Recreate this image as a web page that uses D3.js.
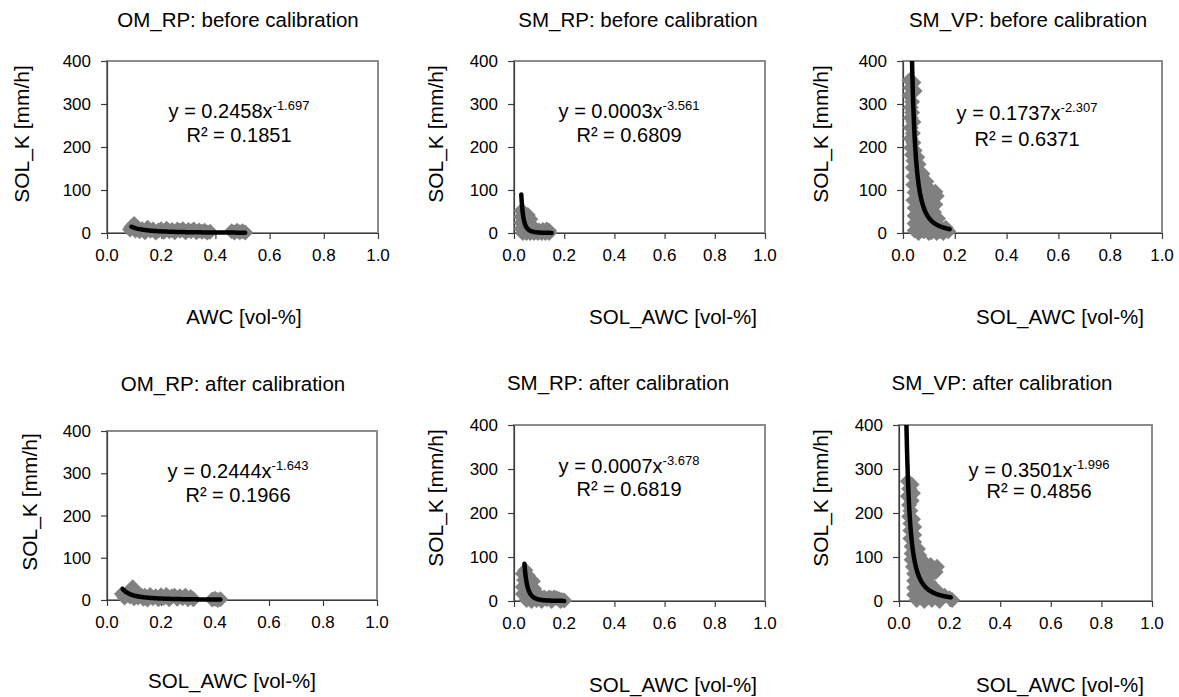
<!DOCTYPE html>
<html>
<head>
<meta charset="utf-8">
<script src="https://cdn.jsdelivr.net/npm/d3@7"></script>
<style>
  body { margin: 0; background: #fff; }
  text { font-family: "Liberation Sans", Arial, sans-serif; fill: #000; }
</style>
</head>
<body>
<div id="chart"></div>
<script>
const WIDTH = 1179;
const HEIGHT = 697;

// Text.
const titles = ["OM_RP: before calibration", "SM_RP: before calibration", "SM_VP: before calibration",
                "OM_RP: after calibration", "SM_RP: after calibration", "SM_VP: after calibration"];
const xLabels = ["AWC [vol-%]", "SOL_AWC [vol-%]", "SOL_AWC [vol-%]",
                 "SOL_AWC [vol-%]", "SOL_AWC [vol-%]", "SOL_AWC [vol-%]"];
const yLabels = ["SOL_K  [mm/h]", "SOL_K  [mm/h]", "SOL_K  [mm/h]",
                 "SOL_K [mm/h]", "SOL_K  [mm/h]", "SOL_K  [mm/h]"];
const xTicks = [0, 0.2, 0.4, 0.6, 0.8, 1.0];
const yTicks = [0, 100, 200, 300, 400];

// Power trendlines y = a * x^b.
const fitA = [0.2458, 0.0003, 0.1737, 0.2444, 0.0007, 0.3501];
const fitB = [-1.697, -3.561, -2.307, -1.643, -3.678, -1.996];
const fitAText = ["0.2458", "0.0003", "0.1737", "0.2444", "0.0007", "0.3501"];
const fitR2 = ["0.1851", "0.6809", "0.6371", "0.1966", "0.6819", "0.4856"];
const fitFrom = [0.09, 0.029, 0.03, 0.058, 0.0415, 0.028];
const fitTo = [0.51, 0.15, 0.18, 0.42, 0.20, 0.205];

// Scatter points [AWC, K].
const omBefore = [[0.085,8],[0.09,14],[0.10,21],[0.105,6],[0.11,14],[0.12,4],[0.13,9],[0.14,2],[0.15,12],
  [0.16,5],[0.17,8],[0.18,1],[0.19,6],[0.20,9],[0.21,3],[0.22,10],[0.23,4],[0.24,7],[0.25,2],[0.26,8],
  [0.27,5],[0.28,9],[0.29,2],[0.30,7],[0.31,4],[0.32,8],[0.33,2],[0.34,6],[0.35,3],[0.36,5],[0.37,1],
  [0.38,3],[0.46,4],[0.47,1],[0.48,5],[0.49,2],[0.50,4],[0.51,1]];
const smRpBefore = [[0.03,52],[0.035,50],[0.03,38],[0.04,40],[0.055,42],[0.065,32],[0.03,24],[0.04,26],
  [0.055,22],[0.07,18],[0.03,10],[0.04,12],[0.055,8],[0.07,6],[0.085,8],[0.1,6],[0.115,7],[0.13,8],
  [0.14,5],[0.035,0],[0.05,0],[0.065,0],[0.08,0],[0.095,0],[0.11,0],[0.125,0],[0.14,0]];
const smVpBefore = [[0.025,355],[0.04,350],[0.03,338],[0.045,330],[0.025,320],[0.035,305],[0.03,292],
  [0.035,280],[0.03,268],[0.04,258],[0.03,245],[0.038,232],[0.03,220],[0.04,210],[0.032,198],[0.045,192],
  [0.035,182],[0.055,176],[0.04,168],[0.06,160],[0.038,152],[0.06,144],[0.075,138],[0.04,132],[0.065,126],
  [0.09,120],[0.04,112],[0.07,108],[0.1,104],[0.125,96],[0.13,86],[0.045,94],[0.08,92],[0.11,86],
  [0.04,76],[0.07,74],[0.1,70],[0.125,66],[0.045,58],[0.075,56],[0.105,54],[0.12,48],[0.045,40],
  [0.075,38],[0.105,36],[0.135,34],[0.045,22],[0.075,20],[0.11,18],[0.14,16],[0.165,12],[0.045,6],
  [0.08,4],[0.11,2],[0.14,4],[0.175,4],[0.06,0],[0.1,0],[0.13,0],[0.155,0]];
const omAfter = [[0.055,14],[0.065,6],[0.075,16],[0.085,8],[0.095,30],[0.1,4],[0.105,18],[0.115,6],
  [0.125,12],[0.135,3],[0.14,10],[0.15,1],[0.16,12],[0.17,4],[0.18,9],[0.19,2],[0.2,11],[0.21,5],
  [0.22,12],[0.23,2],[0.24,8],[0.25,10],[0.26,3],[0.27,9],[0.28,4],[0.29,10],[0.3,2],[0.31,7],[0.32,2],
  [0.39,1],[0.4,3],[0.41,0],[0.42,2]];
const smRpAfter = [[0.035,62],[0.045,70],[0.04,48],[0.055,58],[0.065,50],[0.075,45],[0.035,32],[0.05,35],
  [0.065,30],[0.08,28],[0.035,16],[0.05,18],[0.065,14],[0.08,10],[0.09,16],[0.1,12],[0.05,2],[0.07,0],
  [0.09,2],[0.11,6],[0.12,8],[0.13,4],[0.14,8],[0.15,6],[0.16,8],[0.17,6],[0.18,4],[0.19,2],[0.2,1],
  [0.11,0],[0.15,0],[0.185,0]];
const smVpAfter = [[0.035,272],[0.05,265],[0.04,255],[0.055,245],[0.035,238],[0.05,228],[0.04,218],
  [0.045,205],[0.04,192],[0.055,186],[0.045,176],[0.06,168],[0.045,160],[0.06,150],[0.045,142],[0.06,134],
  [0.05,124],[0.075,118],[0.05,108],[0.08,104],[0.05,94],[0.075,92],[0.1,88],[0.125,82],[0.15,78],
  [0.055,78],[0.085,76],[0.115,72],[0.145,66],[0.06,62],[0.09,60],[0.12,56],[0.06,46],[0.09,44],
  [0.12,42],[0.06,30],[0.09,28],[0.12,28],[0.15,24],[0.06,14],[0.09,12],[0.12,12],[0.15,10],[0.18,12],
  [0.2,6],[0.07,2],[0.1,0],[0.13,2],[0.16,0],[0.21,2]];

const points = [omBefore, smRpBefore, smVpBefore, omAfter, smRpAfter, smVpAfter];

// Layout of the six plot areas (pixels).
const BOXES = [
  {l: 107, r: 378, t: 61, b: 233, tx: 238, ty: 27, lx: 244, ly: 324, yx: 22, yy: 134, ex: 239, ey: 118, ry: 142},
  {l: 514, r: 765, t: 61, b: 233, tx: 638, ty: 27, lx: 673, ly: 324, yx: 436, yy: 134, ex: 629, ey: 118, ry: 142},
  {l: 903, r: 1162, t: 61, b: 233, tx: 1028, ty: 27, lx: 1060, ly: 324, yx: 821, yy: 134, ex: 1027, ey: 120, ry: 146},
  {l: 107, r: 377, t: 431, b: 600, tx: 233, ty: 391, lx: 232, ly: 688, yx: 30, yy: 502, ex: 238, ey: 478, ry: 502},
  {l: 514, r: 765, t: 425, b: 601, tx: 618, ty: 390, lx: 673, ly: 692, yx: 436, yy: 498, ex: 629, ey: 473, ry: 496},
  {l: 899, r: 1152, t: 425, b: 601, tx: 1002, ty: 390, lx: 1060, ly: 692, yx: 821, yy: 498, ex: 1039, ey: 477, ry: 498}
];

const MARK = 8;   // half diagonal of a diamond
const diamond = "M0," + (-MARK) + "L" + MARK + ",0L0," + MARK + "L" + (-MARK) + ",0Z";

function addText(g, x, y, str, size) {
  return g.append("text")
          .attr("x", x)
          .attr("y", y)
          .attr("text-anchor", "middle")
          .attr("font-size", size + "px")
          .text(str);
}

window.onload = function() {

  var svg = d3.select("#chart").append("svg")
              .attr("width", WIDTH)
              .attr("height", HEIGHT);

  var defs = svg.append("defs");

  BOXES.forEach(function (box, i) {

    var x = d3.scaleLinear().domain([0, 1]).range([box.l, box.r]);
    var y = d3.scaleLinear().domain([0, 400]).range([box.b, box.t]);

    var g = svg.append("g");

    defs.append("clipPath").attr("id", "clip" + i)
        .append("rect")
        .attr("x", box.l).attr("y", box.t)
        .attr("width", box.r - box.l).attr("height", box.b - box.t + 20);

    // frame
    g.append("rect")
     .attr("x", box.l).attr("y", box.t)
     .attr("width", box.r - box.l).attr("height", box.b - box.t)
     .attr("fill", "none")
     .attr("stroke", "#8c8c8c")
     .attr("stroke-width", 2);

    // axes
    var xAxis = g.append("g")
                 .attr("transform", "translate(0," + box.b + ")")
                 .call(d3.axisBottom(x).tickValues(xTicks).tickSizeInner(6).tickSizeOuter(0).tickFormat(""));
    var yAxis = g.append("g")
                 .attr("transform", "translate(" + box.l + ",0)")
                 .call(d3.axisLeft(y).tickValues(yTicks).tickSizeInner(6).tickSizeOuter(0).tickFormat(""));
    [xAxis, yAxis].forEach(function (a) {
      a.selectAll("path, line").attr("stroke", "#3c3c3c").attr("stroke-width", 1.2);
    });

    xTicks.forEach(function (t) {
      addText(g, x(t), box.b + 28, d3.format(".1f")(t), 17);
    });
    yTicks.forEach(function (t) {
      addText(g, box.l - 16, y(t) + 6, t, 17).attr("text-anchor", "end");
    });

    // points
    g.append("g").selectAll("path")
     .data(points[i])
     .enter()
     .append("path")
     .attr("d", diamond)
     .attr("transform", function (d) { return "translate(" + x(d[0]) + "," + y(d[1]) + ")"; })
     .attr("fill", "#808080");

    // trendline
    var xs = d3.range(0, 101).map(function (k) { return fitFrom[i] + (fitTo[i] - fitFrom[i]) * k / 100; });
    var line = d3.line()
                 .x(function (v) { return x(v); })
                 .y(function (v) { return y(Math.min(fitA[i] * Math.pow(v, fitB[i]), 440)); })
                 .curve(d3.curveMonotoneX);
    g.append("path")
     .attr("d", line(xs))
     .attr("clip-path", "url(#clip" + i + ")")
     .attr("fill", "none")
     .attr("stroke", "#000")
     .attr("stroke-width", 4.5)
     .attr("stroke-linecap", "round");

    // equation
    var eq = addText(g, box.ex, box.ey, "y = " + fitAText[i] + "x", 20);
    eq.append("tspan")
      .attr("dy", -8)
      .attr("font-size", "13px")
      .text(fitB[i].toFixed(3));
    addText(g, box.ex, box.ry, "R\u00b2 = " + fitR2[i], 20);

    // titles and labels
    addText(g, box.tx, box.ty, titles[i], 20.5);
    addText(g, box.lx, box.ly, xLabels[i], 20.5);
    g.append("text")
     .attr("transform", "translate(" + (box.yx + 7) + "," + box.yy + ") rotate(-90)")
     .attr("text-anchor", "middle")
     .attr("font-size", "21px")
     .text(yLabels[i]);
  });
};
</script>
</body>
</html>
